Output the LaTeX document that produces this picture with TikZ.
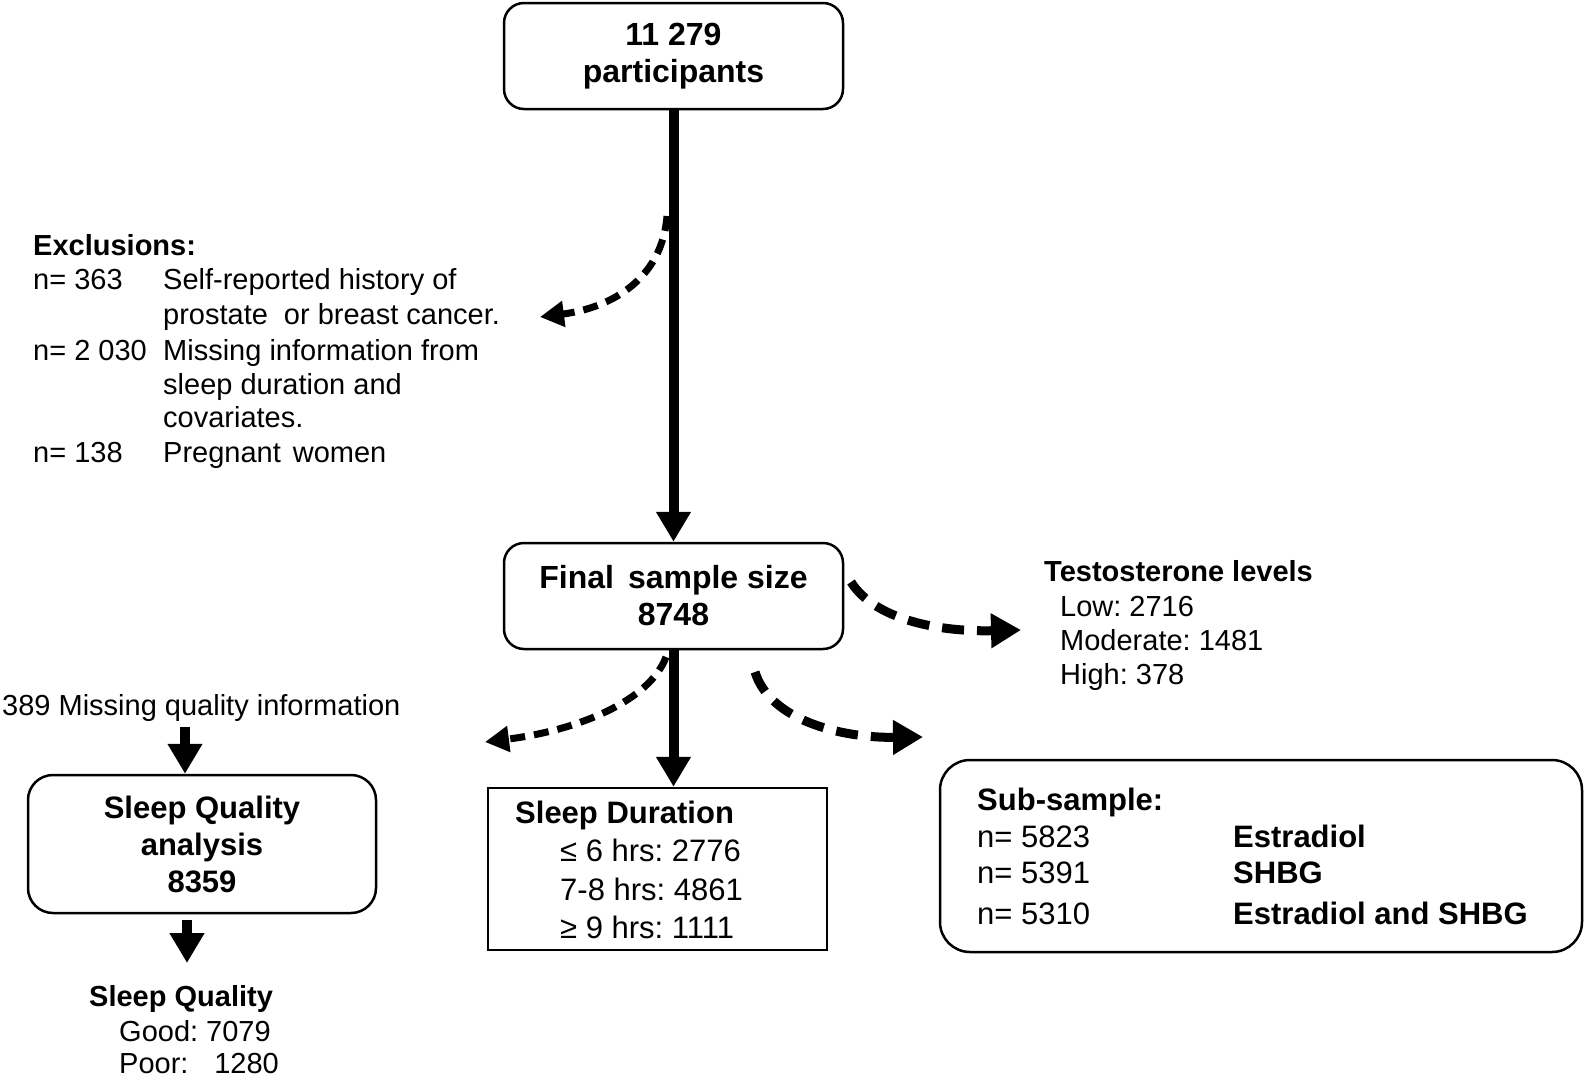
\documentclass[tikz,border=0pt]{standalone}
\usepackage{fontspec}
\setmainfont{Liberation Sans}
\usetikzlibrary{arrows.meta}
\frenchspacing
\begin{document}
\begin{tikzpicture}[x=1pt,y=-1pt,
  box/.style={draw, line width=2.5pt, rounded corners=20pt, inner sep=0pt, align=center, font=\fontsize{32}{37}\selectfont\bfseries},
  lbl/.style={inner sep=0pt, anchor=base west, font=\fontsize{29}{34}\selectfont},
  blbl/.style={inner sep=0pt, anchor=base west, font=\fontsize{29}{34}\selectfont\bfseries},
  mlbl/.style={inner sep=0pt, anchor=base west, font=\fontsize{31}{36}\selectfont},
  mblbl/.style={inner sep=0pt, anchor=base west, font=\fontsize{31}{36}\selectfont\bfseries},
  solidarrow/.style={line width=10pt, -{Triangle[length=30pt,width=33pt]}},
  dasharrow/.style={line width=9pt, dash pattern=on 22pt off 13pt, -{Triangle[length=30pt,width=33pt]}},
  thindash/.style={line width=7pt, dash pattern=on 15pt off 9pt, -{Triangle[length=24pt,width=25pt]}}
]
\useasboundingbox (0,0) rectangle (1585,1076);

% boxes
\node[box, minimum width=339pt, minimum height=106pt] (top) at (673.5,56) {11 279\\participants};
\node[box, minimum width=339pt, minimum height=106pt] (final) at (673.5,596) {Final\hspace{14pt}sample size\\8748};
\node[box, rounded corners=25pt, minimum width=348pt, minimum height=138pt, font=\fontsize{31}{37}\selectfont\bfseries] (sq) at (202,844) {Sleep Quality\\analysis\\8359};
\node[draw, line width=2.5pt, minimum width=339pt, minimum height=162pt, inner sep=0pt] (sdur) at (657.5,869) {};
\node[draw, line width=2.5pt, rounded corners=30pt, minimum width=642pt, minimum height=192pt, inner sep=0pt] (sub) at (1261,856) {};

% exclusions
\node[blbl] (exh) at (33,255) {Exclusions:};
\node[lbl] (ex1a) at (33,289) {n= 363};
\node[lbl] (ex1b) at (163,289) {Self-reported history of};
\node[lbl] (ex1c) at (163,324) {prostate\hspace{16pt}or breast cancer.};
\node[lbl] (ex2a) at (33,360) {n= 2 030};
\node[lbl] (ex2b) at (163,360) {Missing information from};
\node[lbl] (ex2c) at (163,394) {sleep duration and};
\node[lbl] (ex2d) at (163,427) {covariates.};
\node[lbl] (ex3a) at (33,462) {n= 138};
\node[lbl] (ex3b) at (163,462) {Pregnant\hspace{12pt}women};

% testosterone
\node[blbl] (th) at (1044,581) {Testosterone levels};
\node[lbl] (t1) at (1060,616) {Low: 2716};
\node[lbl] (t2) at (1060,650) {Moderate: 1481};
\node[lbl] (t3) at (1060,684) {High: 378};

% missing quality
\node[lbl] (miss) at (2,715) {389 Missing quality information};

% sleep quality result
\node[blbl] (sqh) at (89,1006) {Sleep Quality};
\node[lbl] (sq1) at (119,1041) {Good: 7079};
\node[lbl] (sq2) at (119,1073) {Poor:\hspace{0.89em}1280};

% sleep duration text
\node[mblbl] (sdh) at (515,823) {Sleep Duration};
\node[mlbl] (sd1) at (560,861) {≤ 6 hrs: 2776};
\node[mlbl] (sd2) at (560,900) {7-8 hrs: 4861};
\node[mlbl] (sd3) at (560,938) {≥ 9 hrs: 1111};

% sub-sample text
\node[mblbl] (subh) at (977,810) {Sub-sample:};
\node[mlbl] (s1a) at (977,847) {n= 5823};
\node[mblbl] (s1b) at (1233,847) {Estradiol};
\node[mlbl] (s2a) at (977,883) {n= 5391};
\node[mblbl] (s2b) at (1233,883) {SHBG};
\node[mlbl] (s3a) at (977,924) {n= 5310};
\node[mblbl] (s3b) at (1233,924) {Estradiol and SHBG};

% solid arrows
\draw[solidarrow] (top) -- (final);
\draw[solidarrow] (final.south) -- (final.south |- sdur.north);
\coordinate (m1) at (185,727);
\draw[solidarrow] (m1) -- (m1 |- sq.north);
\coordinate (m2) at (187,920);
\coordinate (m2e) at (187,963);
\draw[solidarrow] (m2) -- (m2e);

% dashed arrows
\coordinate (e1) at (667,216);
\coordinate (e2) at (540,317);
\draw[thindash] (e1) .. controls (662,280) and (610,308) .. (e2);
\coordinate (ts1) at (851,582);
\coordinate (ts2) at (1021,630);
\draw[dasharrow] (ts1) .. controls (875,620) and (940,632) .. (ts2);
\coordinate (r1) at (755,672);
\coordinate (r2) at (923,737);
\draw[dasharrow] (r1) .. controls (770,720) and (840,738) .. (r2);
\coordinate (l1) at (666,657);
\coordinate (l2) at (485,742);
\draw[thindash] (l1) .. controls (650,700) and (580,730) .. (l2);
\end{tikzpicture}
\end{document}
